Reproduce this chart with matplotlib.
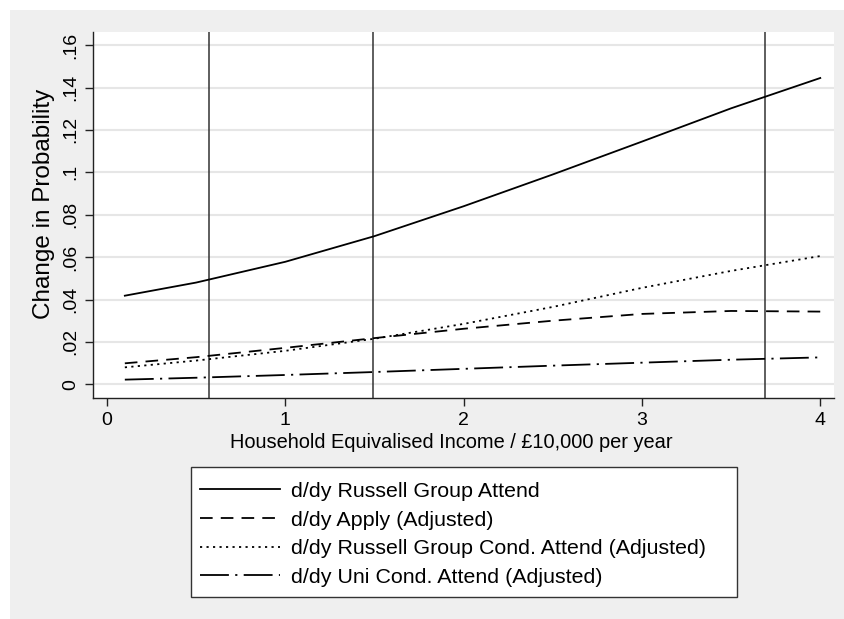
import matplotlib.pyplot as plt
from matplotlib.patches import Rectangle

plt.rcParams['font.family'] = ['Liberation Sans', 'DejaVu Sans']

# marginal effects by household income (£10,000s)
income = [0.1, 0.5, 1.0, 1.5, 2.0, 2.5, 3.0, 3.5, 4.0]
rg_attend = [0.0418, 0.0480, 0.0578, 0.0699, 0.0840, 0.0990, 0.1145, 0.1302, 0.1445]
apply_adj = [0.0099, 0.0128, 0.0172, 0.0218, 0.0262, 0.0300, 0.0332, 0.0346, 0.0343]
rg_cond_adj = [0.0080, 0.0112, 0.0158, 0.0215, 0.0285, 0.0365, 0.0455, 0.0535, 0.0605]
uni_cond_adj = [0.0022, 0.0031, 0.0044, 0.0058, 0.0073, 0.0088, 0.0102, 0.0116, 0.0127]

labels = ['d/dy Russell Group Attend', 'd/dy Apply (Adjusted)',
          'd/dy Russell Group Cond. Attend (Adjusted)', 'd/dy Uni Cond. Attend (Adjusted)']
vlines = [0.572, 1.49, 3.69]
xticks = [0, 1, 2, 3, 4]
yticks = [0, 0.02, 0.04, 0.06, 0.08, 0.10, 0.12, 0.14, 0.16]
yticklabels = ['0', '.02', '.04', '.06', '.08', '.1', '.12', '.14', '.16']

fig = plt.figure(figsize=(8.44, 6.19), dpi=100, facecolor='white')
fig.patches.append(Rectangle((10 / 844, 0), 1, 1 - 10 / 619, transform=fig.transFigure,
                             facecolor='#efefef', edgecolor='none', zorder=-10))

ax = fig.add_axes([93 / 844, 1 - 398 / 619, 741 / 844, 366 / 619])
ax.set_facecolor('white')
for s in ['top', 'right']:
    ax.spines[s].set_visible(False)
for s in ['left', 'bottom']:
    ax.spines[s].set_color('#222222')
    ax.spines[s].set_linewidth(1.0)

ax.set_xlim(-0.0785, 4.077)
ax.set_ylim(-0.00646, 0.1662)
ax.set_xticks(xticks)
ax.set_yticks(yticks)
ax.set_yticklabels(yticklabels, rotation=90, va='center')
ax.tick_params(axis='both', length=6, width=1.0, color='#222222', labelsize=14, pad=4)
ax.yaxis.grid(True, color='#e6e6e6', linewidth=1.5)
ax.set_axisbelow(True)

for v in vlines:
    ax.axvline(v, color='#333333', linewidth=1.1, zorder=2)

lw = 1.3
h1, = ax.plot(income, rg_attend, color='black', linewidth=lw, zorder=3)
h2, = ax.plot(income, apply_adj, color='black', linewidth=lw, dashes=(7, 4.5), zorder=3)
h3, = ax.plot(income, rg_cond_adj, color='black', linewidth=lw, dashes=(1.2, 2.4), zorder=3)
h4, = ax.plot(income, uni_cond_adj, color='black', linewidth=lw, dashes=(16, 3.5, 1.2, 3.5), zorder=3)

ax.set_xlabel('Household Equivalised Income / £10,000 per year', fontsize=14.4)
ax.set_ylabel('Change in Probability', fontsize=17.5)
ax.xaxis.set_label_coords(0.483, -0.095)
ax.yaxis.set_label_coords(-0.051, 0.53)

# legend box below the plot
fig.patches.append(Rectangle((191 / 844, 1 - 597 / 619), 546 / 844, 130 / 619,
                             transform=fig.transFigure, facecolor='white',
                             edgecolor='#333333', linewidth=1.0, zorder=1))
fig.legend([h1, h2, h3, h4], labels, loc='upper left',
           bbox_to_anchor=(185 / 844, 1 - 467 / 619), frameon=False, fontsize=15.4,
           handlelength=3.74, handletextpad=0.5, labelspacing=0.45, borderpad=0.2)

fig.savefig('out.png', dpi=100, facecolor=fig.get_facecolor())
